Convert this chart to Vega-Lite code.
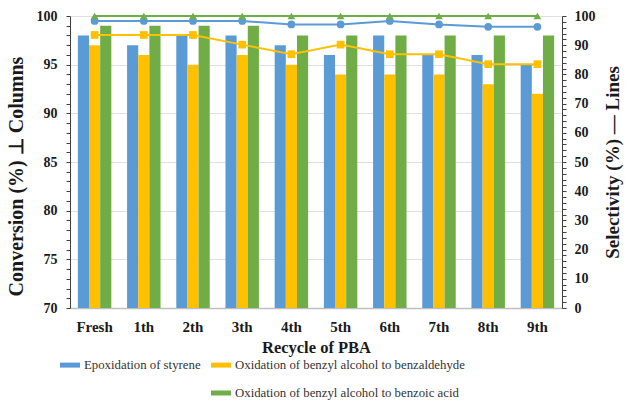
{
  "$schema": "https://vega.github.io/schema/vega-lite/v6.json",
  "autosize": {"type": "none"},
  "padding": {"left": 70, "top": 16, "right": 63, "bottom": 94},
  "width": 492,
  "height": 292,
  "background": "white",
  "config": {
    "view": {"stroke": null},
    "font": "Liberation Serif",
    "axis": {"labelFont": "Liberation Serif", "titleFont": "Liberation Serif", "labelFontWeight": "bold", "titleFontWeight": "bold", "labelColor": "#1a1a1a", "titleColor": "#1a1a1a"},
    "legend": {"labelFont": "Liberation Serif"}
  },
  "data": {"values": [
    {"cycle": "Fresh", "series": "Epoxidation of styrene", "conversion": 98, "selectivity": 98.3},
    {"cycle": "Fresh", "series": "Oxidation of benzyl alcohol to benzaldehyde", "conversion": 97, "selectivity": 93.5},
    {"cycle": "Fresh", "series": "Oxidation of benzyl alcohol to benzoic acid", "conversion": 99, "selectivity": 100},
    {"cycle": "1th", "series": "Epoxidation of styrene", "conversion": 97, "selectivity": 98.3},
    {"cycle": "1th", "series": "Oxidation of benzyl alcohol to benzaldehyde", "conversion": 96, "selectivity": 93.5},
    {"cycle": "1th", "series": "Oxidation of benzyl alcohol to benzoic acid", "conversion": 99, "selectivity": 100},
    {"cycle": "2th", "series": "Epoxidation of styrene", "conversion": 98, "selectivity": 98.3},
    {"cycle": "2th", "series": "Oxidation of benzyl alcohol to benzaldehyde", "conversion": 95, "selectivity": 93.5},
    {"cycle": "2th", "series": "Oxidation of benzyl alcohol to benzoic acid", "conversion": 99, "selectivity": 100},
    {"cycle": "3th", "series": "Epoxidation of styrene", "conversion": 98, "selectivity": 98.3},
    {"cycle": "3th", "series": "Oxidation of benzyl alcohol to benzaldehyde", "conversion": 96, "selectivity": 90.2},
    {"cycle": "3th", "series": "Oxidation of benzyl alcohol to benzoic acid", "conversion": 99, "selectivity": 100},
    {"cycle": "4th", "series": "Epoxidation of styrene", "conversion": 97, "selectivity": 97.1},
    {"cycle": "4th", "series": "Oxidation of benzyl alcohol to benzaldehyde", "conversion": 95, "selectivity": 86.9},
    {"cycle": "4th", "series": "Oxidation of benzyl alcohol to benzoic acid", "conversion": 98, "selectivity": 100},
    {"cycle": "5th", "series": "Epoxidation of styrene", "conversion": 96, "selectivity": 97.1},
    {"cycle": "5th", "series": "Oxidation of benzyl alcohol to benzaldehyde", "conversion": 94, "selectivity": 90.2},
    {"cycle": "5th", "series": "Oxidation of benzyl alcohol to benzoic acid", "conversion": 98, "selectivity": 100},
    {"cycle": "6th", "series": "Epoxidation of styrene", "conversion": 98, "selectivity": 98.3},
    {"cycle": "6th", "series": "Oxidation of benzyl alcohol to benzaldehyde", "conversion": 94, "selectivity": 86.9},
    {"cycle": "6th", "series": "Oxidation of benzyl alcohol to benzoic acid", "conversion": 98, "selectivity": 100},
    {"cycle": "7th", "series": "Epoxidation of styrene", "conversion": 96, "selectivity": 97.1},
    {"cycle": "7th", "series": "Oxidation of benzyl alcohol to benzaldehyde", "conversion": 94, "selectivity": 86.9},
    {"cycle": "7th", "series": "Oxidation of benzyl alcohol to benzoic acid", "conversion": 98, "selectivity": 100},
    {"cycle": "8th", "series": "Epoxidation of styrene", "conversion": 96, "selectivity": 96.3},
    {"cycle": "8th", "series": "Oxidation of benzyl alcohol to benzaldehyde", "conversion": 93, "selectivity": 83.5},
    {"cycle": "8th", "series": "Oxidation of benzyl alcohol to benzoic acid", "conversion": 98, "selectivity": 100},
    {"cycle": "9th", "series": "Epoxidation of styrene", "conversion": 95, "selectivity": 96.3},
    {"cycle": "9th", "series": "Oxidation of benzyl alcohol to benzaldehyde", "conversion": 92, "selectivity": 83.5},
    {"cycle": "9th", "series": "Oxidation of benzyl alcohol to benzoic acid", "conversion": 98, "selectivity": 100}
  ]},
  "encoding": {
    "x": {
      "field": "cycle", "type": "nominal",
      "sort": ["Fresh", "1th", "2th", "3th", "4th", "5th", "6th", "7th", "8th", "9th"],
      "scale": {"paddingInner": 0.32, "paddingOuter": 0.16},
      "axis": {"title": "Recycle of PBA", "labelAngle": 0, "labelFontSize": 15, "titleFontSize": 16.5, "ticks": false, "labelPadding": 11, "titlePadding": 5, "domainColor": "#bfbfbf", "domainWidth": 1.5}
    }
  },
  "layer": [
    {
      "mark": {"type": "bar", "clip": true},
      "encoding": {
        "xOffset": {"field": "series", "type": "nominal", "scale": {"domain": ["Epoxidation of styrene", "Oxidation of benzyl alcohol to benzaldehyde", "Oxidation of benzyl alcohol to benzoic acid"]}},
        "y": {
          "field": "conversion", "type": "quantitative",
          "scale": {"domain": [70, 100], "zero": false, "nice": false},
          "axis": {
            "title": "Conversion (%) ⊥ Columns",
            "values": [70,71,72,73,74,75,76,77,78,79,80,81,82,83,84,85,86,87,88,89,90,91,92,93,94,95,96,97,98,99,100],
            "labelExpr": "datum.value % 5 === 0 ? datum.label : ''",
            "grid": true,
            "gridColor": "#e0e0e0",
            "gridOpacity": {"condition": {"test": "datum.value % 5 === 0 && datum.value > 70", "value": 1}, "value": 0},
            "labelFontSize": 14, "titleFontSize": 20, "titleY": 160, "tickSize": 4, "tickColor": "#404040", "domainColor": "#404040", "labelPadding": 9, "titlePadding": 10
          }
        },
        "color": {
          "field": "series", "type": "nominal",
          "scale": {"domain": ["Epoxidation of styrene", " ", "Oxidation of benzyl alcohol to benzaldehyde", "Oxidation of benzyl alcohol to benzoic acid"], "range": ["#5b9bd5", "transparent", "#ffc000", "#70ad47"]},
          "legend": {
            "title": null, "orient": "none", "legendX": -10, "legendY": 339, "columns": 2, "columnPadding": 10, "rowPadding": 11, "padding": 0,
            "symbolType": "M-1,-0.25H1V0.25H-1Z", "symbolSize": 400, "symbolStrokeWidth": 0, "labelFont": "Liberation Serif", "labelFontSize": 12.8, "labelColor": "#333333", "labelLimit": 400, "labelOffset": 4
          }
        }
      }
    },
    {
      "encoding": {
        "y": {
          "field": "selectivity", "type": "quantitative",
          "scale": {"domain": [0, 100], "nice": false},
          "axis": {
            "title": "Selectivity (%) — Lines", "orient": "right", "titleAngle": 270,
            "values": [0,2,4,6,8,10,12,14,16,18,20,22,24,26,28,30,32,34,36,38,40,42,44,46,48,50,52,54,56,58,60,62,64,66,68,70,72,74,76,78,80,82,84,86,88,90,92,94,96,98,100],
            "labelExpr": "datum.value % 10 === 0 ? datum.label : ''",
            "grid": false, "labelFontSize": 14, "titleFontSize": 19, "tickSize": 4, "tickColor": "#404040", "domainColor": "#404040", "labelPadding": 8, "titlePadding": 27
          }
        }
      },
      "layer": [
        {
          "mark": {"type": "line", "strokeWidth": 2},
          "encoding": {
            "stroke": {"field": "series", "type": "nominal", "scale": {"domain": ["Epoxidation of styrene", "Oxidation of benzyl alcohol to benzaldehyde", "Oxidation of benzyl alcohol to benzoic acid"], "range": ["#5b9bd5", "#ffc000", "#70ad47"]}, "legend": null}
          }
        },
        {
          "mark": {"type": "point", "filled": true, "size": 60, "opacity": 1},
          "encoding": {
            "fill": {"field": "series", "type": "nominal", "scale": {"domain": ["Epoxidation of styrene", "Oxidation of benzyl alcohol to benzaldehyde", "Oxidation of benzyl alcohol to benzoic acid"], "range": ["#5b9bd5", "#ffc000", "#70ad47"]}, "legend": null},
            "shape": {"field": "series", "type": "nominal", "scale": {"domain": ["Epoxidation of styrene", "Oxidation of benzyl alcohol to benzaldehyde", "Oxidation of benzyl alcohol to benzoic acid"], "range": ["circle", "square", "triangle-up"]}, "legend": null}
          }
        }
      ]
    }
  ],
  "resolve": {"scale": {"y": "independent"}, "axis": {"y": "independent"}}
}
